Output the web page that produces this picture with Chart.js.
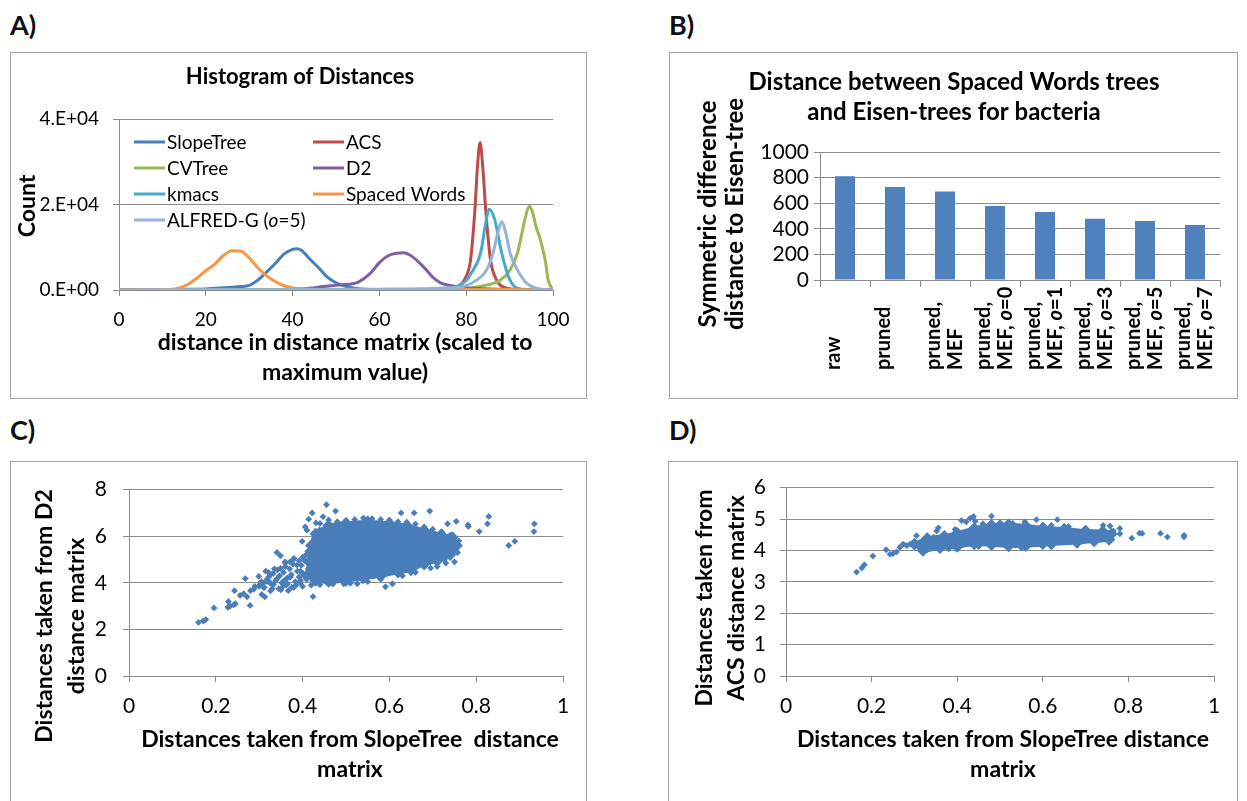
<!DOCTYPE html>
<html>
<head>
<meta charset="utf-8">
<script src="https://cdn.jsdelivr.net/npm/chart.js@4.4.1/dist/chart.umd.min.js"></script>
<style>
    body { margin: 0; background: #fff; width: 1247px; height: 801px; overflow: hidden; position: relative; font-family: Lato, sans-serif; }
    .box { position: absolute; border: 1px solid #a3a3a3; box-sizing: border-box; }
    .tag { position: absolute; font: bold 27px Lato; line-height: 27px; color: #111; }
    canvas { position: absolute; }
</style>
</head>
<body>
<div class="tag" style="left:10px;top:11px">A)</div>
<div class="tag" style="left:669px;top:11px">B)</div>
<div class="tag" style="left:10px;top:416px">C)</div>
<div class="tag" style="left:669px;top:416px">D)</div>

<div class="box" style="left:10px;top:52px;width:577px;height:347px"></div>
<div class="box" style="left:669px;top:52px;width:569px;height:347px"></div>
<div class="box" style="left:10px;top:461px;width:577px;height:360px"></div>
<div class="box" style="left:668px;top:461px;width:570px;height:360px"></div>

<canvas id="chartA" width="577" height="346" style="left:10px;top:52px"></canvas>
<canvas id="chartB" width="568" height="346" style="left:669px;top:52px"></canvas>
<canvas id="chartC" width="577" height="340" style="left:10px;top:461px"></canvas>
<canvas id="chartD" width="569" height="340" style="left:668px;top:461px"></canvas>

<script>
// ---------- A) histogram of distances (x = scaled distance, y = count) ----------
const histNames = ['SlopeTree', 'ACS', 'CVTree', 'D2', 'kmacs', 'Spaced Words', 'ALFRED-G (o=5)'];
const histColors = ['#4a7ebb', '#be4b48', '#98b954', '#7d60a0', '#46aac5', '#f79646', '#95b3d7'];

const slopeX = [0, 10, 16, 20, 24, 28, 30, 32, 34, 36, 38, 40, 41, 42, 44, 46, 48, 50, 52, 54, 56, 60, 70, 80, 90, 100];
const slopeY = [0, 50, 150, 250, 500, 800, 1100, 2300, 4200, 6200, 8400, 9500, 9650, 9300, 7200, 5200, 3000, 1700, 900, 500, 250, 100, 50, 30, 10, 0];
const acsX = [0, 60, 74, 77, 78, 79, 80, 81, 82, 82.6, 83.2, 83.8, 84.5, 85.6, 87, 88, 90, 92, 100];
const acsY = [0, 50, 100, 300, 800, 1500, 3200, 7000, 18700, 29000, 34500, 29000, 18700, 7000, 2300, 1000, 300, 100, 0];
const cvX = [0, 60, 75, 80, 84, 87.8, 90.1, 91.8, 93.5, 94.5, 95.2, 96.1, 97, 98.2, 98.9, 99.7, 100];
const cvY = [0, 50, 150, 300, 1000, 2300, 4700, 8600, 16400, 19600, 18500, 14800, 12100, 7000, 2300, 500, 0];
const d2X = [0, 30, 40, 44, 47, 51, 55, 58, 60, 62, 64, 65.5, 67, 69, 71, 72, 74, 76, 78, 80, 84, 90, 100];
const d2Y = [0, 50, 100, 400, 800, 1200, 1800, 4000, 6400, 8000, 8600, 8700, 8200, 6600, 4500, 3300, 1700, 1100, 800, 500, 300, 100, 0];
const kmacsX = [0, 60, 70, 76, 78, 80, 81.5, 82.8, 83.5, 84.3, 85.3, 86.6, 87.4, 88.2, 89.2, 90.1, 91.6, 94, 100];
const kmacsY = [0, 50, 100, 400, 900, 2200, 4500, 7000, 9500, 14500, 18900, 16400, 12500, 8600, 4800, 2300, 500, 100, 0];
const spacedX = [0, 10, 14, 16, 18, 20, 22, 24, 26, 28, 30, 32, 34, 36, 38, 40, 42, 44, 50, 60, 70, 80, 90, 96, 100];
const spacedY = [0, 50, 500, 1400, 2800, 4500, 6000, 8000, 9200, 9100, 7500, 5200, 3300, 2000, 1000, 500, 300, 200, 100, 50, 50, 100, 100, 50, 0];
const alfredX = [0, 40, 60, 70, 76, 79.3, 82.4, 84.7, 86.2, 87.2, 88.2, 89.2, 90.1, 91.8, 93.9, 95.9, 98, 100];
const alfredY = [0, 100, 200, 300, 500, 800, 2300, 4700, 8700, 13000, 16000, 13000, 8700, 4700, 1600, 500, 100, 0];
const histXTicks = [0, 20, 40, 60, 80, 100];
const histYTicks = [0, 20000, 40000];

// ---------- B) symmetric difference to Eisen-tree ----------
const barCategories = [['raw', ''], ['pruned', ''], ['pruned,', 'MEF'], ['pruned,', 'MEF, o=0'], ['pruned,', 'MEF, o=1'],
    ['pruned,', 'MEF, o=3'], ['pruned,', 'MEF, o=5'], ['pruned,', 'MEF, o=7']];
const barValues = [810, 727, 691, 579, 532, 478, 460, 429];
const barYTicks = [0, 200, 400, 600, 800, 1000];

// ---------- C) SlopeTree vs D2 distances ----------
const cPointsX = [0.160, 0.171, 0.177, 0.196, 0.228, 0.233, 0.241, 0.245, 0.229, 0.243, 0.256, 0.264, 0.272, 0.268, 0.279, 0.280, 0.288,
    0.299, 0.302, 0.310, 0.318, 0.306, 0.313, 0.326, 0.326, 0.333, 0.341, 0.349, 0.349, 0.356, 0.364, 0.367, 0.371, 0.379, 0.387, 0.395,
    0.395, 0.399, 0.406, 0.410, 0.414, 0.422, 0.424, 0.431, 0.439, 0.447, 0.455, 0.476, 0.627, 0.657, 0.693, 0.734, 0.754, 0.781, 0.782,
    0.807, 0.829, 0.826, 0.875, 0.889, 0.933, 0.934, 0.757, 0.750, 0.727, 0.695, 0.695, 0.628, 0.607, 0.591, 0.526, 0.495,
    0.44, 0.48, 0.52, 0.56, 0.58, 0.62, 0.66, 0.70, 0.46, 0.50, 0.54, 0.60, 0.64, 0.68, 0.72, 0.74, 0.76, 0.73, 0.71, 0.66, 0.63,
    0.58, 0.55, 0.51, 0.47, 0.44, 0.42, 0.38, 0.35, 0.33, 0.31, 0.29, 0.36, 0.40, 0.43, 0.45,
    0.300, 0.305, 0.312, 0.318, 0.322, 0.328, 0.332, 0.338, 0.342, 0.347, 0.352, 0.356, 0.360, 0.365, 0.370, 0.374, 0.378, 0.383,
    0.388, 0.392, 0.397, 0.401, 0.405, 0.409, 0.413, 0.417, 0.345, 0.355, 0.365, 0.375, 0.385, 0.395, 0.405, 0.415, 0.335, 0.325,
    0.315, 0.360, 0.380, 0.400, 0.412, 0.418, 0.408, 0.392, 0.372, 0.362, 0.342, 0.322];
const cPointsY = [2.30, 2.36, 2.42, 2.92, 2.95, 3.00, 3.05, 3.10, 3.20, 3.66, 3.46, 3.53, 3.40, 4.18, 3.03, 3.66, 3.73,
    4.28, 3.93, 4.00, 4.06, 3.50, 3.40, 4.35, 3.65, 3.93, 5.30, 5.16, 4.62, 4.07, 4.20, 3.66, 4.90, 5.00, 4.76, 4.50,
    4.00, 5.78, 6.40, 6.26, 6.73, 7.00, 3.41, 6.57, 6.27, 6.84, 7.35, 7.08, 7.00, 7.00, 7.08, 6.53, 6.64, 6.48, 6.42,
    6.20, 6.85, 6.53, 5.60, 5.78, 6.20, 6.53, 5.30, 4.90, 5.00, 4.63, 4.90, 4.50, 3.96, 3.83, 3.96, 3.96,
    6.55, 6.62, 6.72, 6.75, 6.72, 6.62, 6.52, 6.30, 6.70, 6.68, 6.78, 6.70, 6.60, 6.40, 6.20, 6.05, 5.80, 4.85, 4.70, 4.45, 4.30,
    4.15, 4.05, 3.98, 3.95, 3.92, 3.90, 3.80, 3.70, 3.75, 3.80, 3.85, 4.85, 5.10, 5.65, 6.25,
    3.85, 4.05, 3.80, 4.15, 4.25, 3.95, 4.40, 4.10, 4.55, 4.30, 4.00, 4.45, 4.70, 4.20, 4.60, 4.35, 4.80, 4.05,
    4.50, 4.25, 4.75, 4.40, 4.95, 4.15, 4.60, 4.85, 3.75, 3.85, 3.95, 3.80, 3.90, 4.10, 4.30, 4.45, 4.60, 4.00,
    4.50, 4.90, 5.05, 3.85, 5.35, 5.55, 5.20, 4.95, 4.25, 3.90, 4.20, 4.45];
const cCoreX = [0.41, 0.415, 0.42, 0.43, 0.46, 0.50, 0.55, 0.60, 0.64, 0.68, 0.72, 0.745, 0.755, 0.74, 0.71, 0.68, 0.65, 0.62, 0.58,
    0.54, 0.50, 0.46, 0.43, 0.41];
const cCoreY = [4.3, 4.9, 5.6, 6.1, 6.45, 6.55, 6.62, 6.55, 6.45, 6.25, 6.05, 5.95, 5.6, 5.2, 4.95, 4.8, 4.55, 4.45, 4.3,
    4.2, 4.1, 4.05, 4.1, 4.3];
const cXTicks = [0, 0.2, 0.4, 0.6, 0.8, 1];
const cYTicks = [0, 2, 4, 6, 8];

// ---------- D) SlopeTree vs ACS distances ----------
const dPointsX = [0.165, 0.177, 0.183, 0.203, 0.234, 0.243, 0.250, 0.258, 0.266, 0.274, 0.282, 0.290, 0.305, 0.313, 0.321, 0.329,
    0.345, 0.352, 0.356, 0.376, 0.395, 0.410, 0.421, 0.438, 0.442, 0.480, 0.430, 0.558, 0.585, 0.634, 0.741, 0.757, 0.765, 0.780,
    0.780, 0.808, 0.826, 0.832, 0.875, 0.891, 0.930, 0.930, 0.46, 0.50, 0.53, 0.62, 0.66, 0.70, 0.33, 0.38, 0.45, 0.55, 0.60, 0.68];
const dPointsY = [3.31, 3.44, 3.54, 3.82, 4.02, 3.88, 3.90, 3.95, 4.10, 4.20, 4.15, 4.20, 4.47, 4.06, 4.16, 4.37,
    4.42, 4.62, 4.72, 4.10, 4.67, 4.95, 4.91, 5.08, 4.93, 5.09, 5.02, 4.91, 4.98, 4.98, 4.80, 4.78, 4.62, 4.70,
    4.53, 4.39, 4.55, 4.54, 4.54, 4.43, 4.48, 4.43, 4.85, 4.88, 4.86, 4.80, 4.76, 4.70, 4.02, 4.05, 4.12, 4.08, 4.12, 4.20];
const dCoreX = [0.30, 0.33, 0.37, 0.40, 0.44, 0.48, 0.52, 0.56, 0.60, 0.65, 0.70, 0.74, 0.76, 0.755, 0.72, 0.68, 0.62, 0.56,
    0.52, 0.48, 0.44, 0.40, 0.36, 0.32, 0.30];
const dCoreY = [4.2, 4.38, 4.45, 4.55, 4.7, 4.8, 4.82, 4.78, 4.72, 4.68, 4.62, 4.6, 4.52, 4.35, 4.3, 4.25, 4.2, 4.15,
    4.14, 4.18, 4.2, 4.12, 4.08, 4.0, 4.2];
const dXTicks = [0, 0.2, 0.4, 0.6, 0.8, 1];
const dYTicks = [0, 1, 2, 3, 4, 5, 6];

// ---------- helpers ----------
const gridGrey = '#8c8c8c';
const boldFont = 'bold 23px Lato';

// draw a string, setting an "o" that stands before "=" in italics
function drawRich(ctx, str, x, y, font, align) {
    const parts = str.split(/(o(?==))/).filter(p => p !== '');
    const fonts = parts.map(p => (p === 'o' && parts.length > 1) ? 'italic ' + font : font);
    let total = 0;
    parts.forEach((p, i) => { ctx.font = fonts[i]; total += ctx.measureText(p).width; });
    let cx = align === 'center' ? x - total / 2 : (align === 'right' ? x - total : x);
    ctx.textAlign = 'left';
    parts.forEach((p, i) => {
        ctx.font = fonts[i];
        ctx.fillText(p, cx, y);
        cx += ctx.measureText(p).width;
    });
}

// free texts (titles, axis titles) and any extra drawing per chart
const decor = {
    id: 'decor',
    afterDraw(chart, args, opts) {
        const ctx = chart.ctx;
        (opts.texts || []).forEach(t => {
            ctx.save();
            ctx.translate(t.x, t.y);
            if (t.rot) ctx.rotate(t.rot * Math.PI / 180);
            ctx.fillStyle = '#000';
            ctx.textBaseline = 'middle';
            t.lines.forEach((line, i) => {
                const dy = (i - (t.lines.length - 1) / 2) * t.lh;
                drawRich(ctx, line, 0, dy, t.font || boldFont, 'center');
            });
            ctx.restore();
        });
        if (opts.extra) opts.extra(chart);
    }
};

function fixTicks(list) {
    return scale => { scale.ticks = list.map(v => ({ value: v })); };
}

function yAxis(min, max, list, width, pad, size, fmt) {
    return {
        min: min, max: max,
        afterBuildTicks: fixTicks(list),
        afterFit: s => { s.width = width; },
        ticks: { color: '#000', font: { family: 'Lato', size: size }, padding: pad, autoSkip: false, callback: fmt || (v => String(v)) },
        grid: { color: gridGrey, tickLength: 6, drawTicks: true },
        border: { color: gridGrey }
    };
}

function xLinear(min, max, list, height, pad, size, fmt) {
    return {
        type: 'linear', min: min, max: max,
        afterBuildTicks: fixTicks(list),
        afterFit: s => { s.height = height; },
        ticks: { color: '#000', font: { family: 'Lato', size: size }, padding: pad, maxRotation: 0, autoSkip: false, callback: fmt || (v => String(v)) },
        grid: { color: gridGrey, tickLength: 6, drawOnChartArea: false },
        border: { color: gridGrey }
    };
}

function sciLabel(v) {
    if (v === 0) return '0.E+00';
    const e = Math.floor(Math.log10(v));
    return Math.round(v / Math.pow(10, e)) + '.E+' + String(e).padStart(2, '0');
}

function pairs(xs, ys) {
    return xs.map((x, i) => ({ x: x, y: ys[i] }));
}

const common = {
    responsive: false,
    animation: false,
    devicePixelRatio: 1,
    plugins: { legend: { display: false }, tooltip: { enabled: false } }
};

// ---------- chart A ----------
try {
    const histX = [slopeX, acsX, cvX, d2X, kmacsX, spacedX, alfredX];
    const histY = [slopeY, acsY, cvY, d2Y, kmacsY, spacedY, alfredY];
    new Chart(document.getElementById('chartA'), {
        type: 'line',
        data: {
            datasets: histNames.map((name, i) => ({
                label: name,
                data: pairs(histX[i], histY[i]),
                borderColor: histColors[i],
                borderWidth: 3,
                pointRadius: 0,
                cubicInterpolationMode: 'monotone',
                order: histNames.length - i
            }))
        },
        options: Object.assign({}, common, {
            layout: { autoPadding: false, padding: { left: 0, top: 67, right: 34, bottom: 0 } },
            scales: {
                x: xLinear(0, 100, histXTicks, 108, 12, 19),
                y: yAxis(0, 40000, histYTicks, 109, 14, 19, sciLabel)
            },
            plugins: Object.assign({}, common.plugins, {
                decor: {
                    texts: [
                        { lines: ['Histogram of Distances'], x: 290, y: 25, lh: 30, font: 'bold 22px Lato' },
                        { lines: ['Count'], x: 18, y: 154, rot: -90, lh: 30 },
                        { lines: ['distance in distance matrix (scaled to', 'maximum value)'], x: 335, y: 306, lh: 30 }
                    ],
                    // legend laid out in two columns inside the plot
                    extra: chart => {
                        const ctx = chart.ctx;
                        const colX = [124, 303];
                        const rowY = [90, 116, 142, 168];
                        chart.data.datasets.forEach((ds, i) => {
                            const x = colX[i % 2];
                            const y = rowY[Math.floor(i / 2)];
                            ctx.save();
                            ctx.strokeStyle = ds.borderColor;
                            ctx.lineWidth = 3;
                            ctx.beginPath();
                            ctx.moveTo(x, y);
                            ctx.lineTo(x + 31, y);
                            ctx.stroke();
                            ctx.fillStyle = '#000';
                            ctx.textBaseline = 'middle';
                            drawRich(ctx, ds.label, x + 33, y + 1, '19px Lato', 'left');
                            ctx.restore();
                        });
                    }
                }
            })
        }),
        plugins: [decor]
    });
} catch (e) {
    console.error(e);
}

// ---------- chart B ----------
try {
    new Chart(document.getElementById('chartB'), {
        type: 'bar',
        data: {
            labels: barCategories,
            datasets: [{ data: barValues, backgroundColor: '#4f81bd', barPercentage: 0.4, categoryPercentage: 1 }]
        },
        options: Object.assign({}, common, {
            layout: { autoPadding: false, padding: { left: 0, top: 100, right: 17, bottom: 0 } },
            scales: {
                x: {
                    afterFit: s => { s.height = 118; },
                    ticks: { display: false },
                    grid: { color: gridGrey, tickLength: 7, drawOnChartArea: false, offset: true },
                    border: { color: gridGrey }
                },
                y: yAxis(0, 1000, barYTicks, 151, 5, 21)
            },
            plugins: Object.assign({}, common.plugins, {
                decor: {
                    texts: [
                        { lines: ['Distance between Spaced Words trees', 'and Eisen-trees for bacteria'], x: 285, y: 45, lh: 30, font: 'bold 24px Lato' },
                        { lines: ['Symmetric difference', 'distance to Eisen-tree'], x: 53, y: 162, rot: -90, lh: 27, font: 'bold 24px Lato' }
                    ],
                    // rotated category labels, read from the bottom up
                    extra: chart => {
                        const ctx = chart.ctx;
                        const xs = chart.scales.x;
                        barCategories.forEach((lines, i) => {
                            const cx = xs.getPixelForValue(i);
                            ctx.save();
                            ctx.translate(cx, 318);
                            ctx.rotate(-Math.PI / 2);
                            ctx.fillStyle = '#000';
                            ctx.textBaseline = 'middle';
                            lines.forEach((line, j) => {
                                drawRich(ctx, line, 0, (j - 0.5) * 22, 'bold 20px Lato', 'left');
                            });
                            ctx.restore();
                        });
                    }
                }
            })
        }),
        plugins: [decor]
    });
} catch (e) {
    console.error(e);
}

// ---------- charts C and D ----------
function scatterChart(id, pts, core, xTicks, yTicks, yMax, geo, texts) {
    const marker = { pointStyle: 'rectRot', pointRadius: 3.4, backgroundColor: '#4a7ebb', borderWidth: 0 };
    const sets = [Object.assign({ data: pts }, marker)];
    // the dense middle of the cloud, where the markers merge into one area
    sets.push(Object.assign({}, marker, {
        data: core, showLine: true, fill: 'shape', borderColor: '#4a7ebb', borderWidth: 4,
        pointBackgroundColor: '#4a7ebb', tension: 0.2
    }));
    return new Chart(document.getElementById(id), {
        type: 'scatter',
        data: { datasets: sets },
        options: Object.assign({}, common, {
            layout: { autoPadding: false, padding: { left: 0, top: geo.top, right: geo.right, bottom: 0 } },
            scales: {
                x: xLinear(0, 1, xTicks, geo.xh, 12, 21, v => String(Math.round(v * 10) / 10)),
                y: yAxis(0, yMax, yTicks, geo.yw, geo.ypad, 21)
            },
            plugins: Object.assign({}, common.plugins, { decor: { texts: texts } })
        }),
        plugins: [decor]
    });
}

try {
    scatterChart('chartC', pairs(cPointsX, cPointsY), pairs(cCoreX, cCoreY), cXTicks, cYTicks, 8,
        { top: 20, right: 24, xh: 125, yw: 119, ypad: 16 },
        [
            { lines: ['Distances taken from D2', 'distance matrix'], x: 51, y: 155, rot: -90, lh: 32 },
            { lines: ['Distances taken from SlopeTree  distance', 'matrix'], x: 340, y: 294, lh: 30 }
        ]);
    scatterChart('chartD', pairs(dPointsX, dPointsY), pairs(dCoreX, dCoreY), dXTicks, dYTicks, 6,
        { top: 21, right: 23, xh: 125, yw: 118, ypad: 14 },
        [
            { lines: ['Distances taken from', 'ACS distance matrix'], x: 53, y: 137, rot: -90, lh: 32 },
            { lines: ['Distances taken from SlopeTree distance', 'matrix'], x: 335, y: 294, lh: 30 }
        ]);
} catch (e) {
    console.error(e);
}
</script>
</body>
</html>
